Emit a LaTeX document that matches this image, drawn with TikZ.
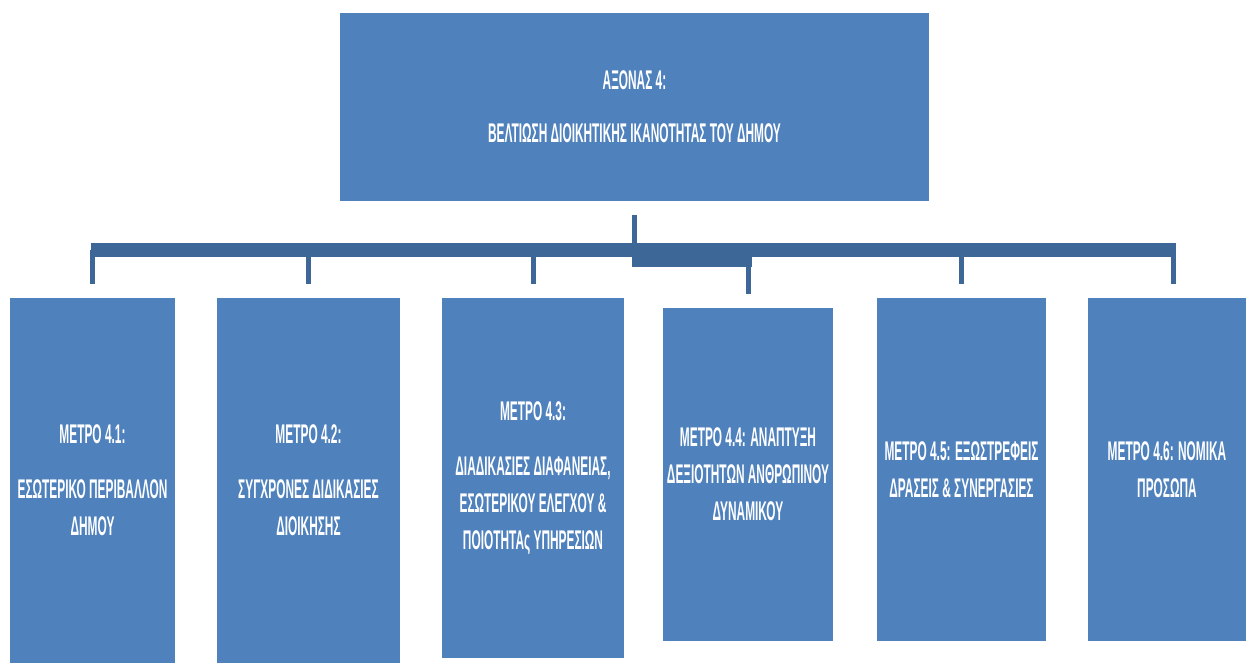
\documentclass[tikz,border=0pt]{standalone}
\usepackage{fontspec}
\newfontfamily\narrowfont[FakeStretch=0.44]{Liberation Sans Bold}
\definecolor{boxblue}{HTML}{4F81BD}
\definecolor{linkblue}{HTML}{3D6796}
\begin{document}
\begin{tikzpicture}[x=1pt,y=-1pt,
  box/.style={fill=boxblue,draw=none,inner sep=0pt,align=center,text=white,
    font=\narrowfont\fontsize{27}{37}\selectfont},
  link/.style={draw=linkblue,line width=5pt},
  bar/.style={draw=linkblue,line width=14pt}]
\useasboundingbox (0,0) rectangle (1246,663);
\node[box,minimum width=589pt,minimum height=188pt] (axon) at (634.5,107)
  {ΑΞΟΝΑΣ 4:\\[16pt] ΒΕΛΤΙΩΣΗ ΔΙΟΙΚΗΤΙΚΗΣ ΙΚΑΝΟΤΗΤΑΣ ΤΟΥ ΔΗΜΟΥ};
\node[box,minimum width=165pt,minimum height=365pt] (m1) at (92.5,480.5)
  {ΜΕΤΡΟ 4.1:\\[18pt] ΕΣΩΤΕΡΙΚΟ ΠΕΡΙΒΑΛΛΟΝ\\ ΔΗΜΟΥ};
\node[box,minimum width=183pt,minimum height=365pt] (m2) at (308.5,480.5)
  {ΜΕΤΡΟ 4.2:\\[18pt] ΣΥΓΧΡΟΝΕΣ ΔΙΔΙΚΑΣΙΕΣ\\ ΔΙΟΙΚΗΣΗΣ};
\node[box,minimum width=182pt,minimum height=360pt] (m3) at (533,478)
  {ΜΕΤΡΟ 4.3:\\[18pt] ΔΙΑΔΙΚΑΣΙΕΣ ΔΙΑΦΑΝΕΙΑΣ,\\ ΕΣΩΤΕΡΙΚΟΥ ΕΛΕΓΧΟΥ \&\\ ΠΟΙΟΤΗΤΑς ΥΠΗΡΕΣΙΩΝ};
\node[box,minimum width=170pt,minimum height=333pt] (m4) at (748,474.5)
  {ΜΕΤΡΟ 4.4: ΑΝΑΠΤΥΞΗ\\ ΔΕΞΙΟΤΗΤΩΝ ΑΝΘΡΩΠΙΝΟΥ\\ ΔΥΝΑΜΙΚΟΥ};
\node[box,minimum width=169pt,minimum height=343pt] (m5) at (961.5,469.5)
  {ΜΕΤΡΟ 4.5: ΕΞΩΣΤΡΕΦΕΙΣ\\ ΔΡΑΣΕΙΣ \& ΣΥΝΕΡΓΑΣΙΕΣ};
\node[box,minimum width=158pt,minimum height=343pt] (m6) at (1167,469.5)
  {ΜΕΤΡΟ 4.6: ΝΟΜΙΚΑ\\ ΠΡΟΣΩΠΑ};
\coordinate (hub) at (634.5,250);
\coordinate (left) at (90.5,250);
\coordinate (right) at (1175.5,250);
\draw[bar] (left) -- (right);
\fill[linkblue] (632,250) rectangle (751.5,267);
\draw[link,shorten <=14pt] (axon.south) -- (hub);
\foreach \m in {m1,m2,m3,m4,m5}
  \draw[link,shorten >=14pt] (\m.north |- hub) -- (\m.north);
\draw[link,shorten >=14pt] ([xshift=6pt]m6.north |- hub) -- ([xshift=6pt]m6.north);
\end{tikzpicture}
\end{document}
